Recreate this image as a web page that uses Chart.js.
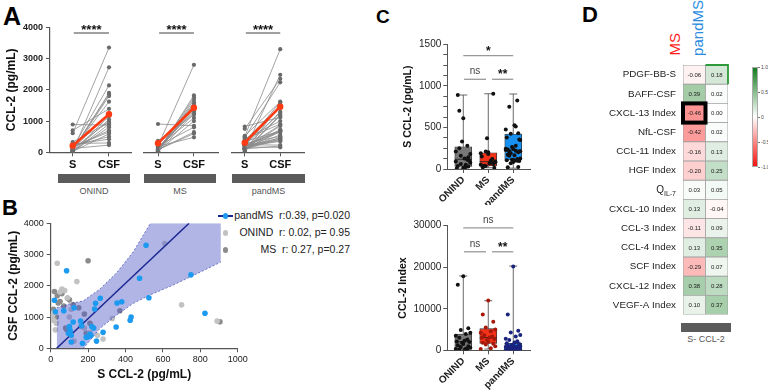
<!DOCTYPE html>
<html>
<head>
<meta charset="utf-8">
<script src="https://cdn.jsdelivr.net/npm/chart.js@4.4.1/dist/chart.umd.min.js"></script>
<style>
  body { margin: 0; width: 768px; height: 392px; position: relative; overflow: hidden; background: #fff; font-family: Arial, "Liberation Sans", sans-serif; }
  canvas { position: absolute; }
  .abs { position: absolute; white-space: pre; line-height: 1; }
  .letter { font-weight: bold; color: #000; }
  .gbar { position: absolute; background: #5b5b5b; height: 9px; }
  .glab { position: absolute; font-size: 9px; color: #555; text-align: center; width: 80px; line-height: 1; }
  .vert { position: absolute; writing-mode: vertical-rl; transform: rotate(180deg); line-height: 1; white-space: nowrap; }
</style>
</head>
<body>
<div class="abs letter" style="left:3px;top:4px;font-size:25px">A</div>
<div class="abs letter" style="left:2px;top:197px;font-size:22px">B</div>
<div class="abs letter" style="left:376px;top:7px;font-size:19px">C</div>
<div class="abs letter" style="left:582px;top:4px;font-size:22px">D</div>
<div id="extra"></div>

<script>
// ---------- panel A / B : paired serum (S) and CSF CCL-2, pg/mL ----------
const groups = ['ONIND', 'MS', 'pandMS'];
const pairTicks = ['S', 'CSF'];

const onindS   = [610, 35, 140, 60, 75, 50, 90, 700, 110, 20, 10, 100, 330, 15, 890, 30, 160, 180, 25, 210, 250, 280, 125];
const onindCSF = [3350, 2720, 2140, 1900, 1850, 1800, 1620, 1390, 1250, 1150, 1050, 1000, 950, 900, 870, 800, 700, 650, 590, 500, 420, 300, 230];

const msS   = [200, 20, 60, 35, 90, 100, 50, 40, 120, 70, 150, 15, 370, 180, 30, 905, 210, 80, 85, 190];
const msCSF = [2800, 1820, 1750, 1680, 1600, 1550, 1500, 1450, 1400, 1350, 1300, 1250, 1200, 1100, 1000, 850, 800, 650, 600, 480];

const pandS   = [85, 20, 25, 70, 125, 510, 475, 750, 825, 525, 380, 355, 265, 240, 235, 430, 425, 350, 280, 245, 160, 120, 100, 105, 95, 110, 110, 170, 200, 190, 215, 220, 230, 210, 100, 165];
const pandCSF = [2480, 1540, 1170, 1200, 1300, 3300, 2240, 2350, 1120, 1620, 1490, 1450, 1600, 1440, 1260, 1000, 900, 680, 510, 230, 870, 840, 660, 560, 480, 420, 200, 160, 370, 350, 410, 700, 650, 450, 700, 720];

const meanONIND = [213, 1216];
const meanMS = [288, 1427];
const meanPand = [307, 1459];
const sigA = ['****', '****', '****'];

// regression fit and 95% band (pandMS)
const fitX = [32, 740];
const fitY = [0, 4000];
const bandX  = [32, 100, 175, 264, 353, 442, 531, 656, 780, 910];
const bandHi = [1300, 1420, 1520, 1900, 2420, 3090, 3980, 5000, 6000, 7000];
const bandLo = [-600, -300, 0, 640, 1066, 1440, 1706, 2026, 2380, 2760];
const legendRows = ['pandMS', 'ONIND', 'MS'];
const legendStats = ['r:0.39, p=0.020', 'r: 0.02, p= 0.95', 'r: 0.27, p=0.27'];

// ---------- panel C : box plots ----------
const sMin = [10, 15, 10], sQ1 = [30, 36, 108], sMed = [117, 88, 228], sQ3 = [268, 196, 421], sMax = [890, 905, 902];
const idxONIND = [17800, 15800, 5300, 4900, 4200, 3900, 3500, 3000, 2600, 2300, 2100, 2000, 1800, 1500, 1200, 1000, 800, 600, 400, 300, 200, 150, 100];
const idxMS = [12000, 8600, 6900, 5500, 5000, 4600, 4200, 3600, 3300, 3100, 3000, 2700, 2400, 2000, 1800, 1600, 1400, 1000, 500, 300];
const idxPand = [20200, 8600, 4700, 4300, 3700, 3300, 2800, 2500, 2200, 1900, 1700, 1500, 1300, 1200, 1100, 1000, 950, 900, 850, 800, 750, 700, 600, 500, 450, 400, 350, 300, 250, 200, 150, 100, 80, 60, 40, 20];
const iMin = [100, 300, 20], iQ1 = [250, 1680, 240], iMed = [2070, 3040, 870], iQ3 = [3920, 5200, 1680], iMax = [17900, 11940, 20280];
const sigS = ['*', 'ns', '**'];
const sigIdx = ['ns', 'ns', '**'];

// ---------- panel D : correlation heatmap with S-CCL-2 ----------
const rowLabels = ['PDGF-BB-S', 'BAFF-CSF', 'CXCL-13 Index', 'NfL-CSF', 'CCL-11 Index', 'HGF Index', 'Q_IL-7',
  'CXCL-10 Index', 'CCL-3 Index', 'CCL-4 Index', 'SCF Index', 'CXCL-12 Index', 'VEGF-A Index'];
const colLabels = ['MS', 'pandMS'];
const corrMS   = [-0.06, 0.39, -0.46, -0.42, -0.16, -0.20, 0.03, 0.13, -0.11, 0.13, -0.29, 0.38, 0.10];
const corrPand = [0.18, 0.02, 0.00, 0.02, 0.13, 0.25, 0.05, -0.04, 0.09, 0.35, 0.07, 0.28, 0.37];
const barTicks = ['1.0', '0.5', '0', '-0.5', '-1.0'];

Chart.defaults.font.family = 'Arial, "Liberation Sans", sans-serif';
Chart.defaults.color = '#222';
Chart.defaults.animation = false;
Chart.defaults.responsive = false;
Chart.defaults.devicePixelRatio = 1;
Chart.defaults.plugins.legend.display = false;
Chart.defaults.plugins.tooltip.enabled = false;

const extra = document.getElementById('extra');
function addDiv(cls, style, text) {
  const d = document.createElement('div');
  d.className = cls;
  d.style.cssText = style;
  if (text !== undefined) d.textContent = text;
  extra.appendChild(d);
  return d;
}
function mkCanvas(left, top, w, h) {
  const c = document.createElement('canvas');
  c.width = w; c.height = h;
  c.style.left = left + 'px'; c.style.top = top + 'px';
  document.body.appendChild(c);
  return c.getContext('2d');
}
const plain = v => String(v);

// significance brackets drawn through the scales
function sigPlugin(items, style) {
  return {
    id: 'sig',
    afterDraw(chart) {
      const { ctx, scales: { x, y } } = chart;
      ctx.save();
      items.forEach(it => {
        const py = y.getPixelForValue(it.y);
        const x1 = x.getPixelForValue(it.x1), x2 = x.getPixelForValue(it.x2);
        ctx.strokeStyle = style.line; ctx.lineWidth = style.width;
        ctx.beginPath(); ctx.moveTo(x1, py); ctx.lineTo(x2, py); ctx.stroke();
        const ns = it.t === 'ns';
        ctx.font = ns ? '10px Arial, "Liberation Sans"' : 'bold ' + style.star + 'px Arial, "Liberation Sans"';
        ctx.fillStyle = ns ? '#444' : '#111';
        ctx.textAlign = 'center';
        ctx.textBaseline = 'alphabetic';
        ctx.fillText(it.t, (x1 + x2) / 2, py - (ns ? 5 : style.off));
      });
      ctx.restore();
    }
  };
}

// ---------- A ----------
function pairChart(k, S, CSF, mean, g) {
  const ctx = mkCanvas(g.left, 15, g.w, 160);
  const datasets = S.map((s, i) => ({
    data: [{ x: 0, y: s }, { x: 1, y: CSF[i] }],
    showLine: true, borderColor: '#8c8c8c', borderWidth: 0.8,
    pointRadius: 2.1, pointBackgroundColor: '#6a6a6a', pointBorderWidth: 0, order: 2
  }));
  datasets.push({
    data: [{ x: 0, y: mean[0] }, { x: 1, y: mean[1] }],
    showLine: true, borderColor: '#ff3b14', borderWidth: 2.6,
    pointRadius: 3.2, pointBackgroundColor: '#ff3b14', pointBorderWidth: 0, order: 0
  });
  new Chart(ctx, {
    type: 'scatter',
    data: { datasets },
    options: {
      layout: { padding: { top: 12.3, right: g.padR, left: g.padL, bottom: 0 } },
      scales: {
        x: {
          type: 'linear', min: g.min, max: g.max,
          afterFit: s => { s.height = 22.7; },
          afterBuildTicks: s => { s.ticks = [{ value: 0 }, { value: 1 }]; },
          ticks: { callback: v => pairTicks[v], font: { weight: 'bold', size: 11 }, color: '#111', padding: 2, autoSkip: false, maxRotation: 0 },
          grid: { display: true, drawOnChartArea: false, tickLength: 4, color: '#555' },
          border: { color: '#555', width: 1.2 }
        },
        y: {
          display: k === 0, min: 0, max: 4000,
          afterFit: s => { s.width = k === 0 ? 50 : 0; },
          ticks: { stepSize: 1000, callback: plain, font: { weight: 'bold', size: 9 }, color: '#222', padding: 3 },
          grid: { display: true, drawOnChartArea: false, tickLength: 4, color: '#555' },
          border: { color: '#555', width: 1.2 },
          title: { display: true, text: 'CCL-2 (pg/mL)', font: { weight: 'bold', size: 12 }, color: '#111', padding: { top: 4, bottom: 0 } }
        }
      }
    },
    plugins: [sigPlugin([{ x1: 0.03, x2: 1, y: 3818, t: sigA[k] }], { line: '#444', width: 1.2, star: 13, off: -1 })]
  });
}
pairChart(0, onindS, onindCSF, meanONIND, { left: 0, w: 135, padL: 0, padR: 4, min: -0.625, max: 1.606 });
pairChart(1, msS, msCSF, meanMS, { left: 140, w: 82, padL: 4, padR: 4, min: -0.39, max: 1.67 });
pairChart(2, pandS, pandCSF, meanPand, { left: 228, w: 80, padL: 4, padR: 3, min: -0.36, max: 1.67 });

const barLefts = [[58, 72], [144, 72], [232, 73]];
groups.forEach((gname, i) => {
  addDiv('gbar', `left:${barLefts[i][0]}px;top:174px;width:${barLefts[i][1]}px`);
  addDiv('glab', `left:${barLefts[i][0] + barLefts[i][1] / 2 - 40}px;top:187px`, gname);
});

// ---------- B ----------
(function () {
  const ctx = mkCanvas(0, 200, 250, 190);
  const pts = (xs, ys) => xs.map((v, i) => ({ x: v, y: ys[i] }));
  new Chart(ctx, {
    type: 'scatter',
    data: {
      datasets: [
        { data: pts(pandS, pandCSF), pointRadius: 2.8, pointBackgroundColor: '#1c9af0', pointBorderWidth: 0, order: 0 },
        { data: pts(fitX, fitY), showLine: true, borderColor: '#1a2690', borderWidth: 1.5, pointRadius: 0, order: 1 },
        { data: pts(bandX, bandHi), showLine: true, borderColor: '#3a46a8', borderWidth: 0.7, borderDash: [2, 2], pointRadius: 0,
          fill: '+1', backgroundColor: 'rgba(80,90,200,0.45)', order: 2 },
        { data: pts(bandX, bandLo), showLine: true, borderColor: '#3a46a8', borderWidth: 0.7, borderDash: [2, 2], pointRadius: 0, order: 3 },
        { data: pts(onindS, onindCSF), pointRadius: 2.8, pointBackgroundColor: '#c2c2c2', pointBorderWidth: 0, order: 4 },
        { data: pts(msS, msCSF), pointRadius: 2.8, pointBackgroundColor: '#8c8c8c', pointBorderWidth: 0, order: 5 }
      ]
    },
    options: {
      layout: { padding: { top: 23.3, right: 12.3, left: 0, bottom: 0 } },
      scales: {
        x: {
          min: 0, max: 1000,
          afterFit: s => { s.height = 41.7; },
          ticks: { stepSize: 200, callback: plain, font: { size: 9 }, color: '#222', padding: 2 },
          grid: { display: true, drawOnChartArea: false, tickLength: 4, color: '#555' },
          border: { color: '#555', width: 1.2 },
          title: { display: true, text: 'S CCL-2 (pg/mL)', font: { weight: 'bold', size: 12 }, color: '#111', padding: { top: 0, bottom: 8 } }
        },
        y: {
          min: 0, max: 4000,
          afterFit: s => { s.width = 50.7; },
          ticks: { stepSize: 1000, callback: plain, font: { size: 9 }, color: '#222', padding: 3 },
          grid: { display: true, drawOnChartArea: false, tickLength: 4, color: '#555' },
          border: { color: '#555', width: 1.2 },
          title: { display: true, text: 'CSF CCL-2 (pg/mL)', font: { weight: 'bold', size: 12 }, color: '#111', padding: { top: 6, bottom: 0 } }
        }
      }
    }
  });
  const legCol = { pandMS: '#1c9af0', ONIND: '#c2c2c2', MS: '#8c8c8c' };
  legendRows.forEach((name, i) => {
    const cy = 216 + i * 17;
    if (i === 0) addDiv('abs', `left:218px;top:${cy - 0.75}px;width:15px;height:1.5px;background:#1a2690`);
    addDiv('abs', `left:${222.5}px;top:${cy - 2.75}px;width:5.5px;height:5.5px;border-radius:50%;background:${legCol[name]}`);
    addDiv('abs', `left:230px;top:${cy - 6}px;width:120px;text-align:right;font-size:10.5px;color:#222`, name + '  ' + legendStats[i]);
  });
})();

// ---------- C ----------
const jit = [0, -0.22, 0.2, -0.1, 0.28, 0.1, -0.3, -0.16, 0.16, 0.05, -0.26, 0.24, -0.05];
const boxColors = ['#787878', '#f2331a', '#1890f0'];

function boxChart(g) {
  const ctx = mkCanvas(395, g.top, 140, g.h);
  const datasets = [{
    type: 'bar',
    data: groups.map((_, i) => ({ x: i, y: [g.q1[i], g.q3[i]] })),
    backgroundColor: boxColors, borderColor: '#333', borderWidth: 0.8, borderSkipped: false,
    barThickness: 17, order: 3
  }];
  g.dots.forEach((arr, gi) => {
    datasets.push({
      data: arr.map((v, i) => ({ x: gi + jit[i % jit.length], y: v })),
      pointRadius: 2, pointBackgroundColor: g.dotColors[gi], pointBorderWidth: 0, order: 1
    });
  });
  const boxPlugin = {
    id: 'box',
    beforeDatasetsDraw(chart) {
      const { ctx, scales: { x, y } } = chart;
      ctx.save();
      ctx.strokeStyle = '#444'; ctx.lineWidth = 0.8;
      g.min.forEach((mn, i) => {
        const px = x.getPixelForValue(i);
        ctx.beginPath();
        ctx.moveTo(px, y.getPixelForValue(mn)); ctx.lineTo(px, y.getPixelForValue(g.max[i]));
        [mn, g.max[i]].forEach(v => { const py = y.getPixelForValue(v); ctx.moveTo(px - 4, py); ctx.lineTo(px + 4, py); });
        ctx.stroke();
      });
      ctx.restore();
    },
    afterDatasetDraw(chart, args) {
      if (args.index !== 0) return;
      const { ctx, scales: { x, y } } = chart;
      ctx.save();
      ctx.strokeStyle = '#222'; ctx.lineWidth = 0.9;
      g.med.forEach((m, i) => {
        const px = x.getPixelForValue(i), py = y.getPixelForValue(m);
        ctx.beginPath(); ctx.moveTo(px - 8.5, py); ctx.lineTo(px + 8.5, py); ctx.stroke();
      });
      ctx.restore();
    }
  };
  const pairs = [[0, 2], [0.03, 0.91], [1.15, 2]];
  const items = g.sig.map((t, i) => ({ x1: pairs[i][0], x2: pairs[i][1], y: g.sigY[i], t }));
  new Chart(ctx, {
    type: 'scatter',
    data: { datasets },
    options: {
      layout: { padding: { top: g.padTop, right: 5, left: 0, bottom: 0 } },
      scales: {
        x: {
          type: 'linear', min: -0.64, max: 2.67, offset: false,
          afterFit: s => { s.height = g.xh; },
          afterBuildTicks: s => { s.ticks = groups.map((_, i) => ({ value: i })); },
          ticks: { callback: v => groups[v], font: { weight: 'bold', size: 10 }, color: '#222', padding: 1, autoSkip: false, minRotation: 45, maxRotation: 45 },
          grid: { display: true, drawOnChartArea: false, offset: false, tickLength: 4, color: '#555' },
          border: { color: '#555', width: 1 }
        },
        y: {
          min: 0, max: g.ymax,
          afterFit: s => { s.width = 52.3; },
          ticks: { stepSize: g.step, autoSkip: false, callback: v => (v % g.major === 0 ? String(v) : ''), font: { size: 10 }, color: '#222', padding: 2 },
          grid: { display: true, drawOnChartArea: false, tickLength: 4, color: '#555' },
          border: { color: '#555', width: 1 },
          title: { display: true, text: g.title, font: { weight: 'bold', size: 10.5 }, color: '#111', padding: { top: g.titlePad, bottom: 0 } }
        }
      }
    },
    plugins: [boxPlugin, sigPlugin(items, { line: '#999', width: 1.3, star: 12, off: 1 })]
  });
}
boxChart({
  top: 25, h: 180, padTop: 19.3, xh: 36, ymax: 1500, step: 125, major: 500, title: 'S CCL-2 (pg/mL)', titlePad: 7,
  q1: sQ1, q3: sQ3, med: sMed, min: sMin, max: sMax,
  dots: [onindS, msS, pandS], dotColors: ['#111', '#111', '#111'],
  sig: sigS, sigY: [1363, 1079, 1079]
});
boxChart({
  top: 205, h: 187, padTop: 20.7, xh: 41.7, ymax: 30000, step: 10000, major: 10000, title: 'CCL-2 Index', titlePad: 1.5,
  q1: iQ1, q3: iQ3, med: iMed, min: iMin, max: iMax,
  dots: [idxONIND, idxMS, idxPand], dotColors: ['#111', '#a8180a', '#1a237e'],
  sig: sigIdx, sigY: [29500, 23720, 23720]
});

// ---------- D ----------
function corrColor(v) {
  const t = Math.min(1, Math.abs(v));
  const end = v >= 0 ? [20, 125, 30] : [245, 20, 15];
  return 'rgb(' + end.map(e => Math.round(255 + (e - 255) * t)).join(',') + ')';
}
(function () {
  const ctx = mkCanvas(590, 60, 145, 260);
  const cols = [corrMS, corrPand];
  const heatPlugin = {
    id: 'heat',
    afterDatasetsDraw(chart) {
      const { ctx } = chart;
      ctx.save();
      ctx.font = '6px Arial, "Liberation Sans"';
      ctx.fillStyle = '#222';
      ctx.textAlign = 'center';
      ctx.textBaseline = 'middle';
      cols.forEach((vals, j) => {
        chart.getDatasetMeta(j).data.forEach((el, i) => {
          ctx.fillText(vals[i].toFixed(2), (el.x + el.base) / 2, el.y + 0.5);
        });
      });
      // highlighted cell: MS vs CXCL-13 Index
      const hl = chart.getDatasetMeta(0).data[2];
      ctx.strokeStyle = '#000'; ctx.lineWidth = 4;
      ctx.strokeRect(Math.min(hl.x, hl.base), hl.y - hl.height / 2, Math.abs(hl.x - hl.base), hl.height);
      // green edge on first pandMS cell
      const gc = chart.getDatasetMeta(1).data[0];
      ctx.strokeStyle = '#2f9a3a'; ctx.lineWidth = 1.8;
      ctx.beginPath();
      ctx.moveTo(gc.base, gc.y - gc.height / 2); ctx.lineTo(gc.x, gc.y - gc.height / 2); ctx.lineTo(gc.x, gc.y + gc.height / 2);
      ctx.stroke();
      // subscript label
      const y = chart.scales.y;
      rowLabels.forEach((lab, i) => {
        if (!lab.includes('_')) return;
        const [base, sub] = lab.split('_');
        const py = y.getPixelForValue(i);
        ctx.fillStyle = '#222';
        ctx.textAlign = 'left'; ctx.textBaseline = 'alphabetic';
        ctx.font = '7px Arial, "Liberation Sans"';
        const ws = ctx.measureText(sub).width;
        ctx.font = '10px Arial, "Liberation Sans"';
        const wb = ctx.measureText(base).width;
        const xr = y.right - 7;
        ctx.fillText(base, xr - ws - wb, py + 3.5);
        ctx.font = '7px Arial, "Liberation Sans"';
        ctx.fillText(sub, xr - ws, py + 6);
      });
      ctx.restore();
    }
  };
  new Chart(ctx, {
    type: 'bar',
    data: {
      labels: rowLabels,
      datasets: cols.map((vals, j) => ({
        data: vals.map(() => [j, j + 1]),
        backgroundColor: vals.map(corrColor),
        borderColor: '#a0a0a0', borderWidth: 0.8, borderSkipped: false,
        grouped: false, barPercentage: 1, categoryPercentage: 1
      }))
    },
    options: {
      indexAxis: 'y',
      layout: { padding: { top: 5, right: 7, left: 0, bottom: 5.4 } },
      scales: {
        x: { type: 'linear', min: 0, max: 2, display: false, offset: false },
        y: {
          afterFit: s => { s.width = 93; s.paddingTop = 0; s.paddingBottom = 0; },
          ticks: { callback: (v, i) => (rowLabels[i].includes('_') ? '' : rowLabels[i]), font: { size: 9.8, lineHeight: 0.2 }, color: '#222', padding: 7, autoSkip: false },
          grid: { display: false, drawTicks: false },
          border: { display: false }
        }
      }
    },
    plugins: [heatPlugin]
  });

  // column headers
  addDiv('vert', 'left:667px;top:33px;font-size:15px;color:#ff1a1a', colLabels[0]);
  addDiv('vert', 'left:690px;top:0px;font-size:15px;color:#2a8be0', colLabels[1]);
  // colour bar
  addDiv('abs', 'left:752px;top:67px;width:5.5px;height:100px;border:0.5px solid #aaa;box-sizing:border-box;' +
    'background:linear-gradient(to bottom, rgb(20,125,30), #fff 50%, rgb(245,20,15))');
  barTicks.forEach((t, i) => {
    addDiv('abs', `left:758px;top:${67 + i * 25}px;width:2px;height:0.6px;background:#777`);
    addDiv('abs', `left:761px;top:${64.5 + i * 25}px;font-size:5px;color:#444`, t);
  });
  addDiv('gbar', 'left:681px;top:323px;width:50px');
  addDiv('glab', 'left:666px;top:335px;width:80px', 'S- CCL-2');
})();
</script>
</body>
</html>
